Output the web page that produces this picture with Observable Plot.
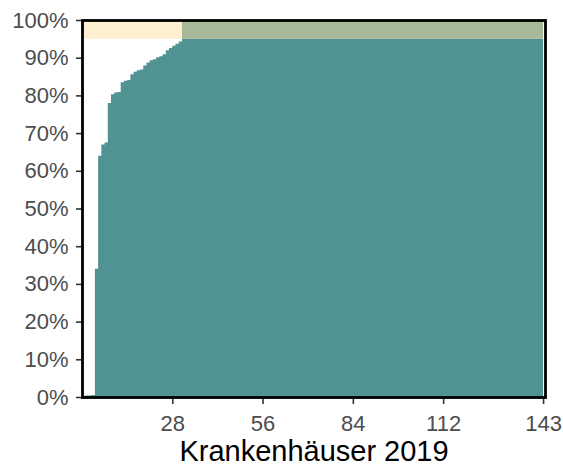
<!DOCTYPE html>
<html><head><meta charset="utf-8">
<script src="https://cdn.jsdelivr.net/npm/d3@7"></script>
<script src="https://cdn.jsdelivr.net/npm/@observablehq/plot@0.6"></script>
<style>
body{margin:0;background:#fff;}
svg{font-family:"Liberation Sans",Arial,Helvetica,sans-serif;}
</style>
</head><body><div id="chart"></div>
<script>
// Cumulative share (%) of cases covered by the first n hospitals (ranked)
const nHospitals = 143;
const cumulativeShare = [0.3, 0.4, 0.4, 0.5, 34, 64, 67, 67.5, 78, 80.3, 80.8, 80.9, 83.5, 83.9, 84.1,
  85.6, 86.3, 86.7, 86.9, 87.9, 88.7, 89.3, 89.6, 90.1, 90.4, 90.9, 92.0, 92.6, 93.2, 93.7, 94.3];
const threshold = 95;           // share reached -> capped band 95–100 %
const hospitalsToThreshold = 31; // hospitals needed to reach 95 %
const yTicks = [0, 10, 20, 30, 40, 50, 60, 70, 80, 90, 100];
const xTicks = [28, 56, 84, 112, 143];
const xTitle = "Krankenhäuser 2019";

const teal = "#519292", bandBefore = "#fef0cf", bandAfter = "#a8b99a";

const pts = cumulativeShare.map((v, i) => ({x: i, y: v}));
pts.push({x: hospitalsToThreshold, y: threshold});
pts.push({x: nHospitals, y: threshold});

const bands = [
  {x1: 0, x2: hospitalsToThreshold, fill: bandBefore},
  {x1: hospitalsToThreshold, x2: nHospitals, fill: bandAfter}
];

const chart = Plot.plot({
  width: 563,
  height: 470,
  marginLeft: 82,
  marginRight: 18,
  marginTop: 20,
  marginBottom: 73,
  x: {domain: [0, 143.6]},
  y: {domain: [0, 100]},
  marks: [
    Plot.areaY(pts, {x: "x", y: "y", curve: "step-after", fill: teal}),
    Plot.rect(bands, {x1: "x1", x2: "x2", y1: threshold, y2: 100, fill: d => d.fill}),
    Plot.axisY(yTicks, {tickFormat: d => d + "%", tickSize: 6, tickPadding: 8, fontSize: 22,
      stroke: "#333333", strokeWidth: 1.6, fill: "#4d4d4d", label: null}),
    Plot.axisX(xTicks, {tickSize: 7, tickPadding: 11, fontSize: 22,
      stroke: "#333333", strokeWidth: 1.6, fill: "#4d4d4d", label: null}),
    Plot.text([xTitle], {frameAnchor: "bottom", lineAnchor: "middle", dy: 54, fontSize: 29, fill: "black"}),
    Plot.frame({stroke: "black", strokeWidth: 2.8})
  ]
});
document.getElementById("chart").append(chart);
</script>
</body></html>
